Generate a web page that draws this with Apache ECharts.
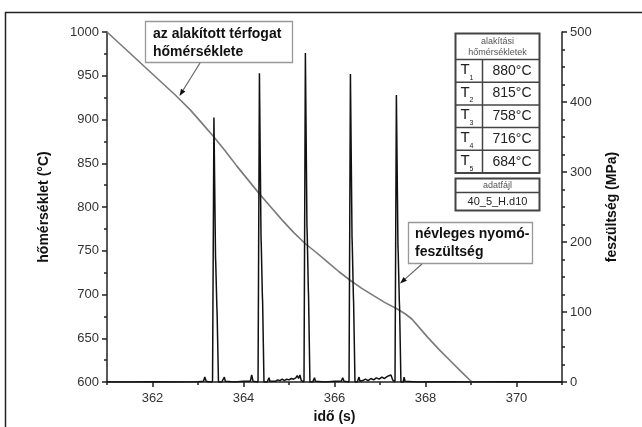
<!DOCTYPE html>
<html><head><meta charset="utf-8">
<script src="https://cdn.jsdelivr.net/npm/echarts@6/dist/echarts.min.js"></script>
<style>html,body{margin:0;padding:0;background:#fff}#c{width:642px;height:427px}</style>
</head><body><div id="c"></div>
<script>
// ---- data ----
const xMajorTicks = [362, 364, 366, 368, 370];
const xMinorTicks = [361, 363, 365, 367, 369, 371];

// temperature of formed volume (°C) vs time (s)
const tempData = [
  [361.00,1000],[361.50,976],[362.00,952],[362.50,928],[362.83,911],[363.10,895],
  [363.35,880],[363.60,864],[363.85,847],[364.10,831],[364.35,815],[364.60,800],
  [364.85,785],[365.10,771],[365.36,758],[365.60,748],[365.85,737],[366.10,726],
  [366.35,716],[366.60,707],[366.85,699],[367.10,691],[367.36,684],[367.55,678],
  [367.70,672],[367.85,663],[368.05,651],[368.30,637],[368.55,624],[368.80,611],[369.02,600]
];

// nominal compressive stress (MPa) vs time (s)
const stressData = [
  [361.00,0],[361.50,0],[362.00,0.5],[362.50,0],[363.00,0.5],[363.12,1],[363.15,7],[363.18,1],[363.25,0],
  [363.315,0],[363.32,3],[363.35,378],[363.385,178],[363.39,170],[363.415,106],[363.42,98],[363.45,0],
  [363.52,0],[363.56,1],[363.58,7],[363.60,1],[363.80,0],[364.00,1],[364.15,1],[364.18,10],[364.21,1],
  [364.315,0],[364.32,3],[364.35,441],[364.385,207],[364.39,198],[364.415,123],[364.42,115],[364.45,0],
  [364.52,0],[364.54,1],[364.56,6],[364.58,1],[364.70,1],[364.75,3],[364.80,2],[364.85,4],[364.90,2],
  [364.95,4],[365.00,3],[365.05,5],[365.10,4],[365.15,6],[365.18,9],[365.21,5],[365.24,10],[365.27,2],
  [365.325,0],[365.33,3],[365.36,470],[365.395,221],[365.40,212],[365.425,132],[365.43,122],[365.46,0],
  [365.52,0],[365.54,1],[365.56,6],[365.58,1],[365.80,0],[366.00,1],[366.15,1],[366.18,6],[366.21,1],
  [366.315,0],[366.32,3],[366.35,440],[366.385,207],[366.39,198],[366.415,123],[366.42,114],[366.45,0],
  [366.50,0],[366.52,1],[366.54,7],[366.56,1],[366.62,2],[366.68,4],[366.74,2],[366.80,5],[366.86,3],
  [366.92,6],[366.98,4],[367.04,7],[367.10,5],[367.16,8],[367.20,6],[367.24,10],[367.28,3],
  [367.325,0],[367.33,3],[367.36,410],[367.395,193],[367.40,185],[367.425,115],[367.43,107],[367.46,0],
  [367.51,0],[367.53,7],[367.55,1],[367.80,0],[368.50,0.5],[369.00,0],[369.80,0.5],[370.50,0],[371.00,0]
];

const tableHeader = ['alakítási', 'hőmérsékletek'];
const tableSubs = ['1','2','3','4','5'];
const formingTemps = ['880°C','815°C','758°C','716°C','684°C'];
const fileHeader = 'adatfájl';
const dataFile = '40_5_H.d10';
const note1 = ['az alakított térfogat', 'hőmérséklete'];
const note2 = ['névleges nyomó-', 'feszültség'];

// ---- chart ----
const FF = 'Liberation Sans, Arial, Helvetica, sans-serif';
const chart = echarts.init(document.getElementById('c'), null, {renderer: 'canvas'});

function arrow(x1, y1, x2, y2) {
  const dx = x2 - x1, dy = y2 - y1, L = Math.hypot(dx, dy);
  const ux = dx / L, uy = dy / L, hl = 7, hw = 2.6;
  const bx = x2 - ux * hl, by = y2 - uy * hl;
  return [
    {type: 'line', shape: {x1: x1, y1: y1, x2: bx, y2: by}, style: {stroke: '#666', lineWidth: 1.2}, z: 20},
    {type: 'polygon', shape: {points: [[x2, y2], [bx - uy * hw, by + ux * hw], [bx + uy * hw, by - ux * hw]]},
     style: {fill: '#111'}, z: 20}
  ];
}

const graphics = [];
// outer frame
graphics.push({type: 'rect', shape: {x: 5.5, y: 12.5, width: 700, height: 500},
  style: {fill: 'none', stroke: '#222', lineWidth: 1.5}, z: 1});

// note 1
graphics.push({type: 'rect', shape: {x: 145.5, y: 21.5, width: 147, height: 41},
  style: {fill: '#fff', stroke: '#999', lineWidth: 1.3}, z: 19});
graphics.push({type: 'text', x: 153, y: 34, style: {text: note1[0], font: 'bold 14px ' + FF, fill: '#111', textVerticalAlign: 'middle'}, z: 21});
graphics.push({type: 'text', x: 153, y: 52, style: {text: note1[1], font: 'bold 14px ' + FF, fill: '#111', textVerticalAlign: 'middle'}, z: 21});
graphics.push(...arrow(200, 63, 179.5, 96));

// note 2
graphics.push({type: 'rect', shape: {x: 408.5, y: 222.5, width: 124, height: 41},
  style: {fill: '#fff', stroke: '#999', lineWidth: 1.3}, z: 19});
graphics.push({type: 'text', x: 415, y: 234.5, style: {text: note2[0], font: 'bold 14px ' + FF, fill: '#111', textVerticalAlign: 'middle'}, z: 21});
graphics.push({type: 'text', x: 415, y: 252, style: {text: note2[1], font: 'bold 14px ' + FF, fill: '#111', textVerticalAlign: 'middle'}, z: 21});
graphics.push(...arrow(422, 264, 400, 283.5));

// forming temperature table
const tx = 455.5, tw = 84, ty = 33.5, hh = 26, rh = 22.7, cx = 482.5;
graphics.push({type: 'rect', shape: {x: tx, y: ty, width: tw, height: hh + rh * 5},
  style: {fill: '#fff', stroke: '#444', lineWidth: 2}, z: 19});
graphics.push({type: 'text', x: tx + tw / 2, y: ty + 8, style: {text: tableHeader[0], font: '9px ' + FF, fill: '#555', textAlign: 'center', textVerticalAlign: 'middle'}, z: 21});
graphics.push({type: 'text', x: tx + tw / 2, y: ty + 19, style: {text: tableHeader[1], font: '9px ' + FF, fill: '#555', textAlign: 'center', textVerticalAlign: 'middle'}, z: 21});
graphics.push({type: 'line', shape: {x1: cx, y1: ty + hh, x2: cx, y2: ty + hh + rh * 5}, style: {stroke: '#444', lineWidth: 1.5}, z: 20});
formingTemps.forEach((t, i) => {
  const y0 = ty + hh + rh * i;
  graphics.push({type: 'line', shape: {x1: tx, y1: y0, x2: tx + tw, y2: y0}, style: {stroke: '#444', lineWidth: 1.5}, z: 20});
  graphics.push({type: 'text', x: tx + 5, y: y0 + rh / 2 - 1, style: {text: 'T', font: '15px ' + FF, fill: '#222', textVerticalAlign: 'middle'}, z: 21});
  graphics.push({type: 'text', x: tx + 14, y: y0 + rh / 2 + 7, style: {text: tableSubs[i], font: '7px ' + FF, fill: '#222', textVerticalAlign: 'middle'}, z: 21});
  graphics.push({type: 'text', x: (cx + tx + tw) / 2 + 1, y: y0 + rh / 2, style: {text: t, font: '14px ' + FF, fill: '#222', textAlign: 'center', textVerticalAlign: 'middle'}, z: 21});
});

// data file box
const fy = 178.5;
graphics.push({type: 'rect', shape: {x: tx, y: fy, width: tw, height: 32},
  style: {fill: '#fff', stroke: '#444', lineWidth: 2}, z: 19});
graphics.push({type: 'line', shape: {x1: tx, y1: fy + 14, x2: tx + tw, y2: fy + 14}, style: {stroke: '#444', lineWidth: 1.5}, z: 20});
graphics.push({type: 'text', x: tx + tw / 2, y: fy + 7, style: {text: fileHeader, font: '9px ' + FF, fill: '#555', textAlign: 'center', textVerticalAlign: 'middle'}, z: 21});
graphics.push({type: 'text', x: tx + tw / 2, y: fy + 23.5, style: {text: dataFile, font: '11px ' + FF, fill: '#222', textAlign: 'center', textVerticalAlign: 'middle'}, z: 21});

const axisLineStyle = {color: '#222', width: 1.5};
const labelStyle = {color: '#333', fontSize: 13, fontFamily: FF, formatter: v => String(v)};
const nameStyle = {color: '#111', fontSize: 14, fontWeight: 'bold', fontFamily: FF};

chart.setOption({
  animation: false,
  backgroundColor: '#fff',
  textStyle: {fontFamily: FF},
  grid: {left: 107, right: 80, top: 32, bottom: 45, containLabel: false, outerBoundsMode: 'none'},
  xAxis: [{
    type: 'value', position: 'bottom', min: 361, max: 371,
    name: 'idő (s)', nameLocation: 'middle', nameGap: 27, nameTextStyle: nameStyle,
    axisLine: {show: true, lineStyle: axisLineStyle},
    axisTick: {show: true, customValues: xMajorTicks, length: 5, lineStyle: axisLineStyle},
    axisLabel: {customValues: xMajorTicks, margin: 10, ...labelStyle},
    splitLine: {show: false}
  }, {
    type: 'value', position: 'bottom', min: 361, max: 371,
    axisLine: {show: false},
    axisTick: {show: true, customValues: xMinorTicks, length: 3, lineStyle: axisLineStyle},
    axisLabel: {show: false},
    splitLine: {show: false}
  }],
  yAxis: [{
    type: 'value', position: 'left', min: 600, max: 1000, interval: 50,
    name: 'hőmérséklet (°C)', nameLocation: 'middle', nameGap: 56, nameRotate: 90, nameTextStyle: nameStyle,
    axisLine: {show: true, lineStyle: axisLineStyle},
    axisTick: {show: true, length: 5, lineStyle: axisLineStyle},
    minorTick: {show: true, splitNumber: 2, length: 3, lineStyle: axisLineStyle},
    axisLabel: {margin: 8, ...labelStyle},
    splitLine: {show: false}
  }, {
    type: 'value', position: 'right', min: 0, max: 500, interval: 100,
    name: 'feszültség (MPa)', nameLocation: 'middle', nameGap: 43, nameRotate: 90, nameTextStyle: nameStyle,
    axisLine: {show: true, lineStyle: axisLineStyle},
    axisTick: {show: true, length: 5, lineStyle: axisLineStyle},
    minorTick: {show: true, splitNumber: 4, length: 3, lineStyle: axisLineStyle},
    axisLabel: {margin: 8, ...labelStyle},
    splitLine: {show: false}
  }],
  series: [{
    type: 'line', name: 'temp', xAxisIndex: 0, yAxisIndex: 0, data: tempData,
    showSymbol: false, symbol: 'none', lineStyle: {color: '#7a7a7a', width: 1.6}, z: 3
  }, {
    type: 'line', name: 'stress', xAxisIndex: 0, yAxisIndex: 1, data: stressData,
    showSymbol: false, symbol: 'none', lineStyle: {color: '#111', width: 1.5}, z: 4
  }],
  graphic: graphics
});
</script></body></html>
